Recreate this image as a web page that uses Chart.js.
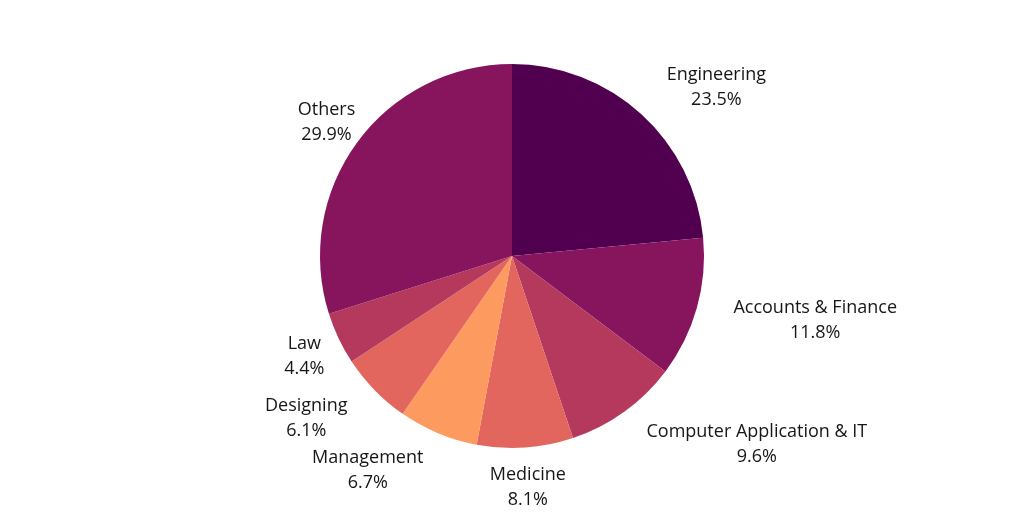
<!DOCTYPE html>
<html>
<head>
<meta charset="utf-8">
<script src="https://cdn.jsdelivr.net/npm/chart.js@4.4.1/dist/chart.umd.min.js"></script>
<style>
  html, body { margin: 0; padding: 0; background: #ffffff; }
  #wrap { width: 1024px; height: 512px; }
</style>
</head>
<body>
<div id="wrap"><canvas id="pie-chart" width="1024" height="512"></canvas></div>
<script>
// Share of students by field (percent)
const categories = ['Engineering', 'Accounts & Finance', 'Computer Application & IT', 'Medicine',
  'Management', 'Designing', 'Law', 'Others'];
const shares = [23.5, 11.8, 9.6, 8.1, 6.7, 6.1, 4.4, 29.9];
const sliceColors = ['#50004f', '#87155d', '#b5385d', '#e3665e', '#fd9a5f', '#e3665e', '#b5385d', '#87155d'];

const LABEL_FONT = '500 18px "Open Sans", "Noto Sans", sans-serif';
const LABEL_RADIUS = 230;

// Draw two-line labels (name + percent) outside each slice
const outsideLabels = {
  id: 'outsideLabels',
  afterDraw(chart) {
    const ctx = chart.ctx;
    const meta = chart.getDatasetMeta(0);
    ctx.save();
    ctx.font = LABEL_FONT;
    ctx.fillStyle = '#161616';
    ctx.textBaseline = 'middle';
    meta.data.forEach((arc, i) => {
      const mid = (arc.startAngle + arc.endAngle) / 2;
      const dx = Math.cos(mid), dy = Math.sin(mid);
      const ax = arc.x + dx * LABEL_RADIUS;
      const ay = arc.y + dy * LABEL_RADIUS + 2;
      const lines = [categories[i], shares[i].toFixed(1) + '%'];
      const w = Math.max(...lines.map(l => ctx.measureText(l).width));
      let cx = ax;
      // wide labels hang off the anchor point, short ones sit centred on it
      if (Math.abs(dx) > 0.15 && w > 70) {
        cx = dx > 0 ? ax + w / 2 : ax - w / 2;
      }
      ctx.textAlign = 'center';
      ctx.fillText(lines[0], cx, ay - 12.5);
      ctx.fillText(lines[1], cx, ay + 12.5);
    });
    ctx.restore();
  }
};

new Chart(document.getElementById('pie-chart'), {
  type: 'pie',
  data: {
    labels: categories,
    datasets: [{
      data: shares,
      backgroundColor: sliceColors,
      borderWidth: 0
    }]
  },
  options: {
    responsive: false,
    animation: false,
    layout: { padding: { top: 64, bottom: 64, left: 0, right: 0 } },
    plugins: {
      legend: { display: false },
      tooltip: { enabled: false }
    }
  },
  plugins: [outsideLabels]
});
</script>
</body>
</html>
